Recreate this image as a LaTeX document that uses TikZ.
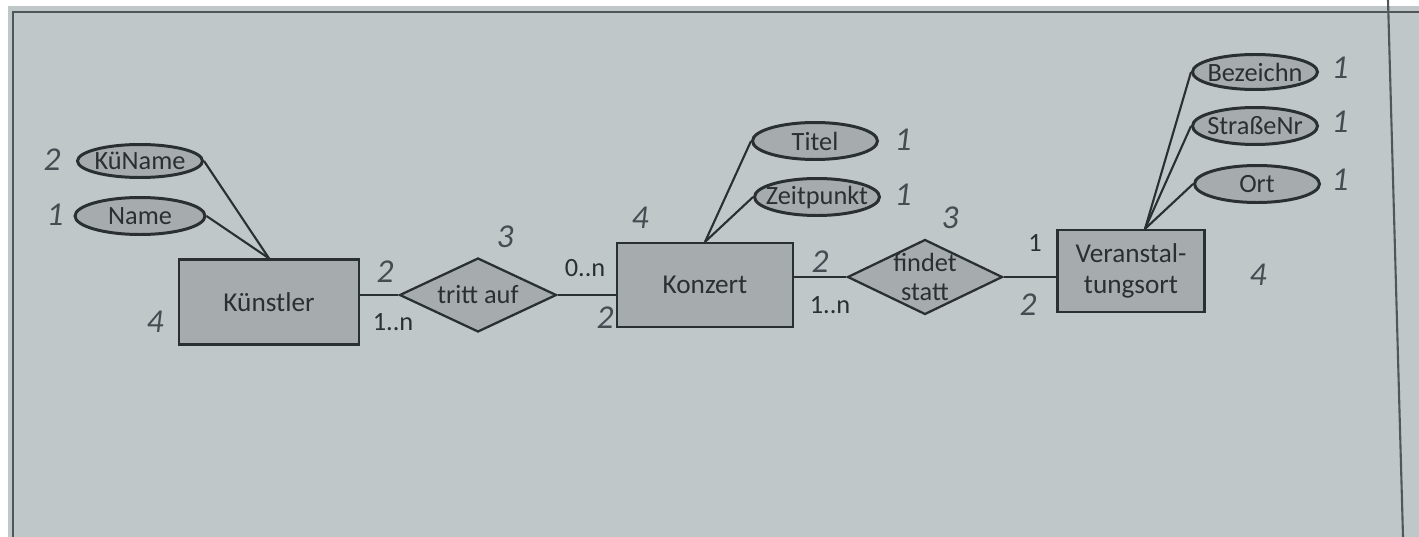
\documentclass[tikz,border=0pt]{standalone}
\usepackage{fontspec}
\setmainfont{Carlito}
\usepackage{xcolor}
\usetikzlibrary{shapes.geometric}
\definecolor{paperbg}{RGB}{192,199,201}
\definecolor{pageedge}{RGB}{80,86,90}
\definecolor{shapefill}{RGB}{166,171,173}
\definecolor{inkdark}{RGB}{42,47,52}
\definecolor{pencilgray}{RGB}{70,76,82}

\begin{document}
\begin{tikzpicture}[x=0.02cm, y=-0.02cm,
  entity/.style={draw=inkdark, fill=shapefill, line width=1.3pt, inner sep=0pt,
    minimum width=3.6cm, minimum height=1.7cm, align=center, text=inkdark,
    font=\fontsize{15.5}{18}\selectfont},
  rel/.style={diamond, draw=inkdark, fill=shapefill, line width=1.3pt, inner sep=0pt,
    aspect=2.07, minimum width=3.14cm, minimum height=1.48cm, align=center, text=inkdark,
    font=\fontsize{15}{17}\selectfont},
  attr/.style={ellipse, draw=inkdark, fill=shapefill, line width=1.7pt, inner sep=-6pt,
    minimum width=2.5cm, minimum height=0.74cm, text=inkdark,
    font=\fontsize{15}{17}\selectfont},
  cnt/.style={text=pencilgray, font=\fontsize{19}{21}\selectfont\itshape},
  mult/.style={text=inkdark, font=\fontsize{15}{17}\selectfont},
  link/.style={draw=inkdark, line width=1.2pt}]

% Photographed page
\fill[white] (0,0) rectangle (1419,537);
\fill[paperbg] (8,6) -- (1419,6) -- (1419,537) -- (8,537) -- cycle;
\useasboundingbox (0,0) rectangle (1419,537);
\draw[pageedge, line width=1.4pt] (13,537) -- (13,12) -- (1419,12);
\draw[pageedge, line width=1.2pt] (1388,0) -- (1403,537);

% Entities
\node[entity] (kuenstler) at (269,302) {Künstler};
\node[entity, minimum width=3.52cm, minimum height=1.68cm] (konzert) at (705,285) {Konzert};
\node[entity, minimum width=2.94cm, minimum height=1.64cm] (veranst) at (1131,271) {Veranstal-\\tungsort};

% Relations
\node[rel] (tritt) at (478,295) {tritt auf};
\node[rel, inner sep=-2.5pt, minimum width=3.1cm, minimum height=1.5cm] (findet) at (925,277) {findet\\statt};

% Attributes
\node[attr, minimum height=0.66cm] (kuname) at (140,161) {KüName};
\node[attr, minimum width=2.6cm] (name) at (140,216) {Name};
\node[attr] (titel) at (815,141) {Titel};
\node[attr] (zeitpunkt) at (817,197) {Zeitpunkt};
\node[attr, minimum height=0.7cm] (bezeichn) at (1255,72) {Bezeichn};
\node[attr] (strassenr) at (1255,126) {StraßeNr};
\node[attr] (ort) at (1257,184) {Ort};

% Connectors
\draw[link] (kuname.east) -- (kuenstler.north);
\draw[link] (name.east) -- (kuenstler.north);
\draw[link] (titel.west) -- (konzert.north);
\draw[link] (zeitpunkt.west) -- (konzert.north);
\draw[link] (bezeichn.west) -- ([xshift=0.28cm]veranst.north);
\draw[link] (strassenr.west) -- ([xshift=0.28cm]veranst.north);
\draw[link] (ort.west) -- ([xshift=0.28cm]veranst.north);
\draw[link] (tritt.west -| kuenstler.east) -- (tritt.west);
\draw[link] (tritt.east) -- (tritt.east -| konzert.west);
\draw[link] (findet.west -| konzert.east) -- (findet.west);
\draw[link] (findet.east) -- (findet.east -| veranst.west);

% Counts and multiplicities
\node[cnt] (cKuName) at (52,160) {2};
\node[cnt] (cName) at (55,215) {1};
\node[cnt] (cKuenstler) at (155,322) {4};
\node[cnt] (cTrittL) at (385,272) {2};
\node[mult] (mTrittL) at (393,322) {1..n};
\node[cnt] (cTritt) at (505,237) {3};
\node[mult] (mTrittR) at (585,268) {0..n};
\node[cnt] (cTrittR) at (605,318) {2};
\node[cnt] (cKonzert) at (640,218) {4};
\node[cnt] (cTitel) at (903,140) {1};
\node[cnt] (cZeitpunkt) at (903,195) {1};
\node[cnt] (cFindetL) at (820,262) {2};
\node[mult] (mFindetL) at (830,305) {1..n};
\node[cnt] (cFindet) at (950,218) {3};
\node[mult] (mFindetR) at (1035,243) {1};
\node[cnt] (cFindetR) at (1028,305) {2};
\node[cnt] (cVeranst) at (1258,275) {4};
\node[cnt] (cBezeichn) at (1340,68) {1};
\node[cnt] (cStrasse) at (1340,122) {1};
\node[cnt] (cOrt) at (1340,180) {1};
\end{tikzpicture}
\end{document}
